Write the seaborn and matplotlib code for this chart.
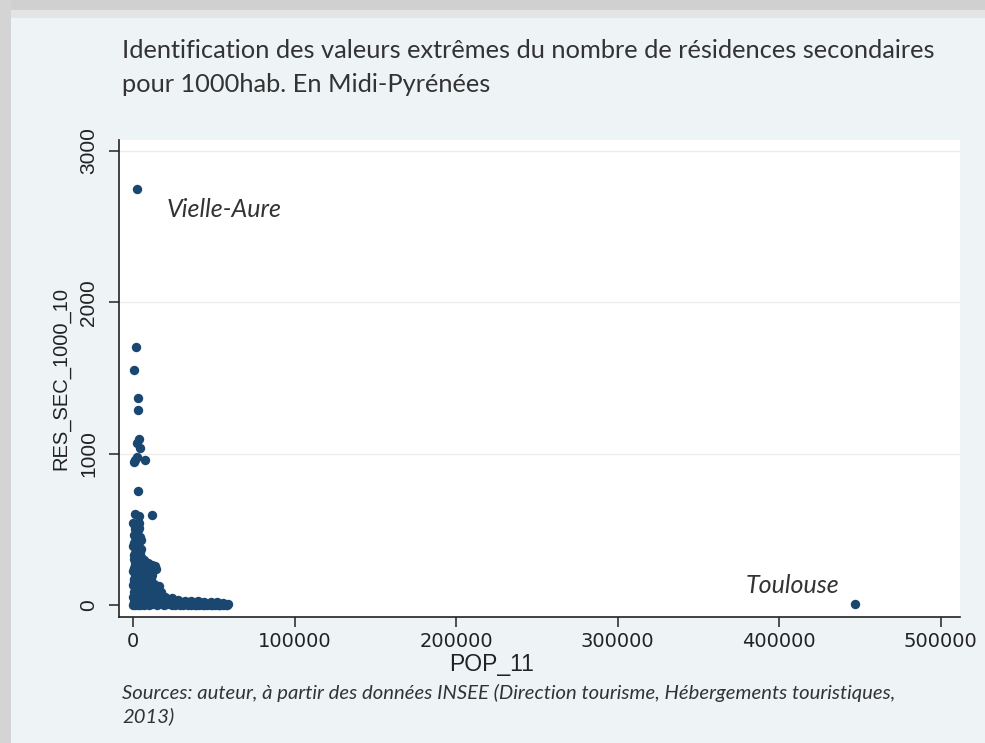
import matplotlib
matplotlib.use("Agg")
import matplotlib.pyplot as plt
import seaborn as sns
import pandas as pd
from matplotlib.patches import Rectangle

# Communes: population 2011 and second homes per 1000 inhabitants
pop_11 = [
    # isolated high values
    2500, 1800, 400, 3000, 3200, 3600, 2700, 4100, 1000, 2400, 7600, 900,
    3000, 1300, 3600, 11700,
    # dense column of small communes
    300, 2200, 4000, 1200, 3300, 500, 2600, 4400, 1500, 3600, 300, 2300,
    4800, 1100, 3000, 5200, 400, 2000, 3900, 1200, 2900, 4700, 300, 2000,
    3600, 5500, 800, 2600, 4300, 300, 1800, 3400, 5200, 700, 2400, 4100,
    300, 1600, 3200, 4900, 900, 2500, 4200, 200, 6000,
    1000, 3800, 2000, 4800, 700, 2800, 1900, 4200, 600, 3400, 1500, 5000,
    600, 3600, 1400, 4600, 2200, 400, 3000, 5600, 1200, 4200, 2800, 500,
    3800, 5500, 1500, 3000,
    # medium-sized communes
    7000, 9000, 11500, 13500, 14500, 8000, 10500, 6500, 8500, 11000, 7200,
    9800, 13000, 16000, 7500, 11500, 14500, 17500, 6800, 9500, 12500, 15500,
    19000, 7000, 10000, 13000, 8500, 11500, 14000, 6500,
    6000, 6000, 8000, 10000, 12000, 9000, 16000, 18000, 15000, 12000, 7500,
    10000,
    # larger towns
    17000, 20000, 22500, 25000, 27500, 30000, 32500, 35000, 37500, 40000,
    42500, 45000, 47500, 50000, 52500, 55000, 57500, 59000, 21000, 26000,
    31000, 36000, 41000, 46000, 51000, 56000, 18500, 23500, 28500, 33500,
    38500, 43500, 48500, 53500,
    20000, 24000, 28000, 32000, 36000, 40000, 44000, 48000, 52000, 56000,
    19000, 24000, 29000, 34000, 39000, 44000, 49000, 54000, 58000,
    # regional capital
    447000,
]
res_sec_1000_10 = [
    2750, 1705, 1550, 1370, 1290, 1095, 1070, 1040, 960, 975, 958, 945,
    755, 600, 590, 592,
    540, 530, 545, 500, 495, 465, 460, 450, 425, 415, 390, 380,
    370, 345, 335, 320, 305, 295, 280, 260, 250, 240, 225, 215,
    200, 190, 175, 160, 150, 135, 120, 110, 100, 85, 75, 65,
    50, 40, 30, 20, 12, 5, 0, 0, 40,
    520, 510, 480, 430, 410, 400, 355, 350, 330, 310, 275, 270,
    245, 230, 205, 200, 185, 160, 140, 130, 100, 90, 60, 20,
    15, 5, 0, 0,
    300, 275, 265, 255, 240, 235, 225, 210, 195, 180, 165,
    150, 140, 125, 120, 110, 95, 85, 80, 70, 60, 55,
    45, 40, 30, 25, 10, 5, 15, 0,
    260, 150, 90, 120, 200, 50, 20, 60, 0, 40, 20,
    0,
    30, 25, 35, 20, 15, 20, 10, 15, 8, 12,
    5, 10, 4, 8, 3, 6, 2, 5, 5, 3,
    0, 2, 0, 1, 0, 0, 10, 8, 5, 4,
    3, 2, 1, 0,
    50, 45, 35, 30, 28, 25, 22, 20, 18, 15,
    0, 0, 0, 0, 0, 0, 0, 0, 0,
    5,
]

labels = ["Vielle-Aure", "Toulouse"]
label_x = [21000, 379000]
label_y = [2617, 132]

xticks = [0, 100000, 200000, 300000, 400000, 500000]
yticks = [0, 1000, 2000, 3000]

df = pd.DataFrame({"POP_11": pop_11, "RES_SEC_1000_10": res_sec_1000_10})

sns.set_theme(style="white")
plt.rcParams["font.family"] = ["Liberation Sans", "DejaVu Sans"]

W, H = 985, 743
fig = plt.figure(figsize=(W / 100, H / 100), dpi=100)
fig.patch.set_facecolor("#eef3f5")

# outer frame: grey border on the top and left edges
fig.add_artist(Rectangle((0, 1 - 10 / H), 1, 10 / H, transform=fig.transFigure,
                         facecolor="#d0d0d0", edgecolor="none", zorder=0))
fig.add_artist(Rectangle((0, 1 - 18 / H), 1, 8 / H, transform=fig.transFigure,
                         facecolor="#e3e5e5", edgecolor="none", zorder=0))
fig.add_artist(Rectangle((0, 0), 11 / W, 1, transform=fig.transFigure,
                         facecolor="#d4d4d4", edgecolor="none", zorder=0))

ax = fig.add_axes([119 / W, 1 - 617 / H, (960 - 119) / W, (617 - 140) / H])
ax.set_facecolor("white")

sns.scatterplot(data=df, x="POP_11", y="RES_SEC_1000_10", ax=ax,
                color="#1a476f", s=46, linewidth=0, zorder=3)

ax.set_xlim(-8670, 512000)
ax.set_ylim(-79, 3073)
ax.set_xticks(xticks)
ax.set_yticks(yticks)
ax.set_xticklabels([str(v) for v in xticks], fontsize=14, family="DejaVu Sans",
                   color="#222222")
ax.set_yticklabels([str(v) for v in yticks], fontsize=15, rotation=90,
                   va="center", color="#222222")

for v in yticks[1:]:
    ax.axhline(v, color="#ececec", lw=1, zorder=1)

for side in ["top", "right"]:
    ax.spines[side].set_visible(False)
for side in ["left", "bottom"]:
    ax.spines[side].set_color("#222222")
    ax.spines[side].set_linewidth(1.2)
ax.tick_params(axis="both", direction="out", length=7, width=1.1,
               color="#222222", left=True, bottom=True)
ax.tick_params(axis="y", pad=8)
ax.tick_params(axis="x", pad=4)

ax.set_xlabel("POP_11", fontsize=16.5, color="#222222")
ax.xaxis.set_label_coords((492 - 119) / (960 - 119), (617 - 665) / (617 - 140),
                          transform=ax.transAxes)
ax.xaxis.label.set_va("center")
ax.set_ylabel("RES_SEC_1000_10", fontsize=14.5, color="#222222")
ax.yaxis.set_label_coords((70 - 119) / (960 - 119), 0.5)

for name, lx, ly in zip(labels, label_x, label_y):
    ax.text(lx, ly, name, fontsize=18, style="italic", family="Lato",
            color="#333333", ha="left", va="center")

fig.text(122 / W, 1 - 50 / H,
         "Identification des valeurs extrêmes du nombre de résidences secondaires",
         fontsize=18.3, family="Lato", color="#333333", va="center")
fig.text(122 / W, 1 - 84 / H, "pour 1000hab. En Midi-Pyrénées",
         fontsize=18.3, family="Lato", color="#333333", va="center")

fig.text(122 / W, 1 - 693 / H,
         "Sources: auteur, à partir des données INSEE (Direction tourisme, "
         "Hébergements touristiques,",
         fontsize=14.6, family="Lato", style="italic", color="#333333",
         va="center")
fig.text(122 / W, 1 - 716 / H, "2013)", fontsize=14.6, family="Lato",
         style="italic", color="#333333", va="center")

fig.savefig("out.png", dpi=100, facecolor=fig.get_facecolor())
